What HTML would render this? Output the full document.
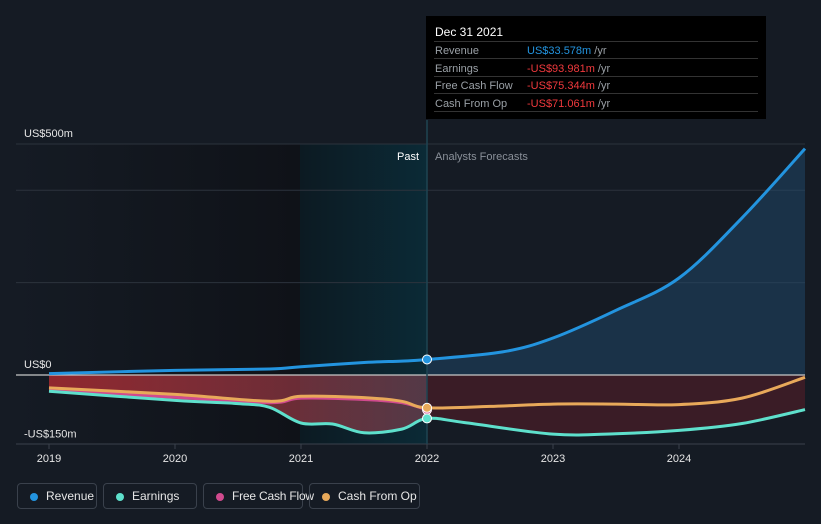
<!DOCTYPE html>
<html><head><meta charset="utf-8"><style>
html,body{margin:0;background:#151b24;width:821px;height:524px;overflow:hidden;font-family:"Liberation Sans",sans-serif}
.leg{position:absolute;top:483px;height:26px;border:1px solid #3a414c;border-radius:4px;color:#e6e6e6;font-size:12px;line-height:24px;box-sizing:border-box;padding-left:28px;white-space:nowrap}
.leg i{position:absolute;left:12px;top:9px;width:8px;height:8px;border-radius:50%}
.tt{position:absolute;left:8px;right:8px;border-top:1px solid #333}
</style></head><body>
<svg id="c" width="821" height="524" style="position:absolute;left:0;top:0"></svg>
<div class="leg" style="left:17px;width:80px"><i style="background:#2394df"></i>Revenue</div>
<div class="leg" style="left:103px;width:94px"><i style="background:#5ee0cc"></i>Earnings</div>
<div class="leg" style="left:203px;width:100px;padding-left:28px;letter-spacing:-0.2px"><i style="background:#d04a8e"></i>Free Cash Flow</div>
<div class="leg" style="left:309px;width:111px"><i style="background:#e8a95a"></i>Cash From Op</div>
<div style="position:absolute;left:426px;top:16px;width:340px;height:103px;background:#000;font-size:11px;color:#9aa0a6">
<div style="position:absolute;left:9px;top:9px;color:#fff;font-size:12px">Dec 31 2021</div>
<div class="tt" style="top:25px"></div><div class="tt" style="top:42px"></div><div class="tt" style="top:60px"></div><div class="tt" style="top:77px"></div><div class="tt" style="top:95px"></div>
<div style="position:absolute;left:9px;top:27px;line-height:17.5px">Revenue<br>Earnings<br>Free Cash Flow<br>Cash From Op</div>
<div style="position:absolute;left:101px;top:27px;line-height:17.5px"><span style="color:#2394df">US$33.578m</span> /yr<br><span style="color:#f0393d">-US$93.981m</span> /yr<br><span style="color:#f0393d">-US$75.344m</span> /yr<br><span style="color:#f0393d">-US$71.061m</span> /yr</div>
</div>
<script>
const revX=[2019,2020,2020.75,2021,2021.5,2021.8,2022,2022.6,2023,2023.5,2024,2024.5,2025];
const revV=[3,10,13,18,27,30,33.6,50,80,140,210,340,490];
const earnX=[2019,2020,2020.5,2020.75,2021,2021.25,2021.5,2021.8,2022,2022.3,2023,2023.5,2024,2024.5,2025];
const earnV=[-35,-55,-62,-70,-104,-106,-125,-117,-94,-103,-128,-127,-120,-105,-75];
const fcfX=[2019,2020,2020.75,2021,2021.5,2021.8,2022];
const fcfV=[-33,-48,-60,-50,-53,-60,-75.3];
const cfoX=[2019,2020,2020.75,2021,2021.5,2021.8,2022,2022.5,2023,2023.5,2024,2024.5,2025];
const cfoV=[-28,-42,-57,-46,-49,-57,-71,-68,-63,-63,-64,-50,-5];
const yTicks=[500,0,-150];const yLabels=["US$500m","US$0","-US$150m"];
const xTicks=[2019,2020,2021,2022,2023,2024];
const X=t=>49+(t-2019)*126, Y=v=>375-v*0.462;
const s=document.getElementById('c');const NS='http://www.w3.org/2000/svg';
function el(tag,a,p){const e=document.createElementNS(NS,tag);for(const k in a)e.setAttribute(k,a[k]);(p||s).appendChild(e);return e;}
s.innerHTML='<defs><linearGradient id="lg" x1="0" x2="1"><stop offset="0" stop-color="#151b24"/><stop offset="1" stop-color="#0f1218"/></linearGradient><linearGradient id="hg" x1="0" x2="1"><stop offset="0" stop-color="#0c1a22"/><stop offset="1" stop-color="#0b2a36"/></linearGradient><linearGradient id="rg" x1="0" x2="1"><stop offset="0" stop-color="#b02a30" stop-opacity=".8"/><stop offset="1" stop-color="#c05060" stop-opacity=".4"/></linearGradient></defs>';
el('rect',{x:16,y:144,width:284,height:300,fill:'url(#lg)'});
el('rect',{x:300,y:144,width:127,height:300,fill:'url(#hg)'});
[500,400,200].forEach(v=>el('line',{x1:16,x2:805,y1:Y(v),y2:Y(v),stroke:'#2c333d'}));
el('line',{x1:16,x2:805,y1:444,y2:444,stroke:'#3a414c'});
function smooth(xs,vs){const p=xs.map((x,i)=>[X(x),Y(vs[i])]);let d='M'+p[0][0].toFixed(1)+','+p[0][1].toFixed(1);
for(let i=0;i<p.length-1;i++){const p0=p[i-1]||p[i],p1=p[i],p2=p[i+1],p3=p[i+2]||p2;
const c1=[p1[0]+(p2[0]-p0[0])/6,p1[1]+(p2[1]-p0[1])/6],c2=[p2[0]-(p3[0]-p1[0])/6,p2[1]-(p3[1]-p1[1])/6];
d+='C'+c1.map(n=>n.toFixed(1))+' '+c2.map(n=>n.toFixed(1))+' '+p2.map(n=>n.toFixed(1));}return d;}
const ePast=earnX.filter(x=>x<=2022), eFut=earnX.filter(x=>x>=2022);
const xEnd=earnX[earnX.length-1];
el('path',{d:smooth(ePast,earnV.slice(0,ePast.length))+'L'+X(2022)+','+Y(0)+'L'+X(2019)+','+Y(0)+'Z',fill:'url(#rg)'});
el('path',{d:smooth(eFut,earnV.slice(earnX.length-eFut.length))+'L'+X(xEnd)+','+Y(0)+'L'+X(2022)+','+Y(0)+'Z',fill:'#5a1e28',opacity:.55});
const rf=revX.filter(x=>x>=2022);
el('path',{d:smooth(rf,revV.slice(revX.length-rf.length))+'L'+X(revX[revX.length-1])+','+Y(0)+'L'+X(2022)+','+Y(0)+'Z',fill:'#1f4a6b',opacity:.5});
el('line',{x1:16,x2:805,y1:Y(0),y2:Y(0),stroke:'#c8c8c8','stroke-width':1.2});
el('line',{x1:427,x2:427,y1:120,y2:444,stroke:'#1e4452','stroke-width':1.5});
const series=[[fcfX,fcfV,'#d04a8e'],[cfoX,cfoV,'#e8a95a'],[earnX,earnV,'#5ee0cc'],[revX,revV,'#2394df']];
series.forEach(([xs,vs,c],i)=>{const p=el('path',{d:smooth(xs,vs),fill:'none',stroke:c,'stroke-width':3,'stroke-linejoin':'round'});
const k=xs.indexOf(2022);el('circle',{cx:X(2022),cy:Y(vs[k]),r:4.5,fill:c,stroke:'#fff','stroke-width':1});});
yTicks.forEach((v,i)=>{const t=el('text',{x:24,y:Y(v)-7,fill:'#e6e6e6','font-size':11});t.textContent=yLabels[i];});
xTicks.forEach(v=>{el('line',{x1:X(v),x2:X(v),y1:444,y2:449,stroke:'#3a414c'});const t=el('text',{x:X(v),y:462,fill:'#e6e6e6','font-size':11,'text-anchor':'middle'});t.textContent=v;});
let t=el('text',{x:419,y:160,fill:'#fff','font-size':11,'text-anchor':'end'});t.textContent='Past';
t=el('text',{x:435,y:160,fill:'#8a9099','font-size':11});t.textContent='Analysts Forecasts';
</script>
</body></html>
